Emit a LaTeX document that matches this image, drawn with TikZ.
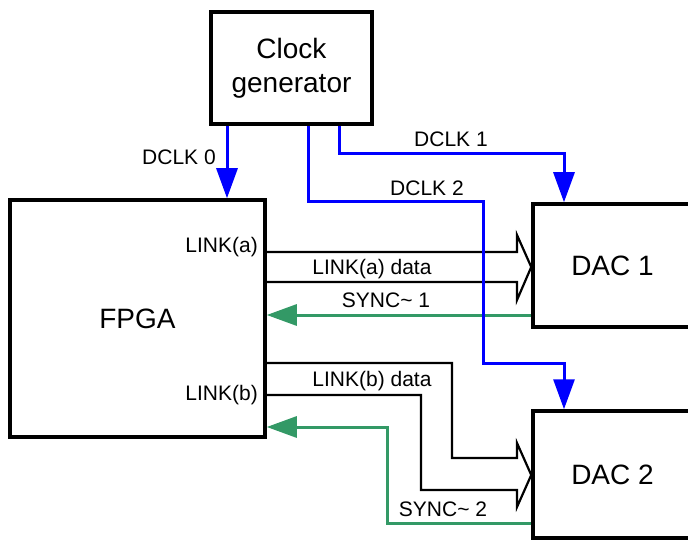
\documentclass[tikz,border=0pt]{standalone}
\usepackage{fontspec}
\setmainfont{Liberation Sans}
\usetikzlibrary{arrows.meta}
\definecolor{syncgreen}{RGB}{51,153,102}

\begin{document}
\begin{tikzpicture}[x=1pt, y=-1pt, line join=miter,
  block/.style={draw, line width=3.5pt, inner sep=0pt, font=\fontsize{28}{34}\selectfont},
  clkline/.style={draw=blue, line width=3pt, -{Triangle[length=30pt,width=21pt]}},
  syncline/.style={draw=syncgreen, line width=3pt, -{Triangle[length=30pt,width=21pt]}},
  bus/.style={draw, line width=2.2pt},
  lbl/.style={font=\fontsize{21}{25}\selectfont, inner sep=0pt, text height=15pt, text depth=0pt}]
  \useasboundingbox (0,0) rectangle (688,540);

  % blocks
  \node[block, minimum width=161pt, minimum height=112pt, align=center] (clk) at (291.5,68) {Clock\\generator};
  \node[block, minimum width=255pt, minimum height=237pt] (fpga) at (137.5,318.5) {FPGA};
  \node[block, minimum width=159pt, minimum height=123pt] (dac1) at (612.5,265.5) {DAC 1};
  \node[block, minimum width=159pt, minimum height=127pt] (dac2) at (612.5,474.5) {DAC 2};

  % data links
  \draw[bus] (fpga.east |- 0,252) -- (517,252) -- (517,235) -- (dac1.west |- 0,267)
    -- (517,300) -- (517,282) -- (fpga.east |- 0,282);
  \draw[bus] (fpga.east |- 0,363) -- (452,363) -- (452,458) -- (517,458) -- (517,443)
    -- (dac2.west |- 0,475) -- (517,507) -- (517,490) -- (421,490) -- (421,395)
    -- (fpga.east |- 0,395);

  % sync
  \draw[syncline] (dac1.west |- 0,315) -- (fpga.east |- 0,315);
  \draw[syncline] (dac2.west |- 0,523) -- (387,523) -- (387,427) -- (fpga.east |- 0,427);

  % clocks
  \draw[clkline] (clk.south -| 227,0) -- (fpga.north -| 227,0);
  \draw[clkline] (clk.south -| 339,0) -- (339,154) -- (564,154) -- (dac1.north -| 564,0);
  \draw[clkline] (clk.south -| 308,0) -- (308,202) -- (483,202) -- (483,363) -- (564,363)
    -- (dac2.north -| 564,0);

  % labels
  \node[lbl] (d0) at (179,157) {DCLK 0};
  \node[lbl] (d1) at (451,139) {DCLK 1};
  \node[lbl] (d2) at (427,188) {DCLK 2};
  \node[lbl, anchor=east] (la) at (258,245) {LINK(a)};
  \node[lbl] (lad) at (372,267) {LINK(a) data};
  \node[lbl] (s1) at (386,300) {SYNC\textasciitilde{} 1};
  \node[lbl, anchor=east] (lb) at (258,393) {LINK(b)};
  \node[lbl] (lbd) at (372,379) {LINK(b) data};
  \node[lbl] (s2) at (443,509) {SYNC\textasciitilde{} 2};
\end{tikzpicture}
\end{document}
